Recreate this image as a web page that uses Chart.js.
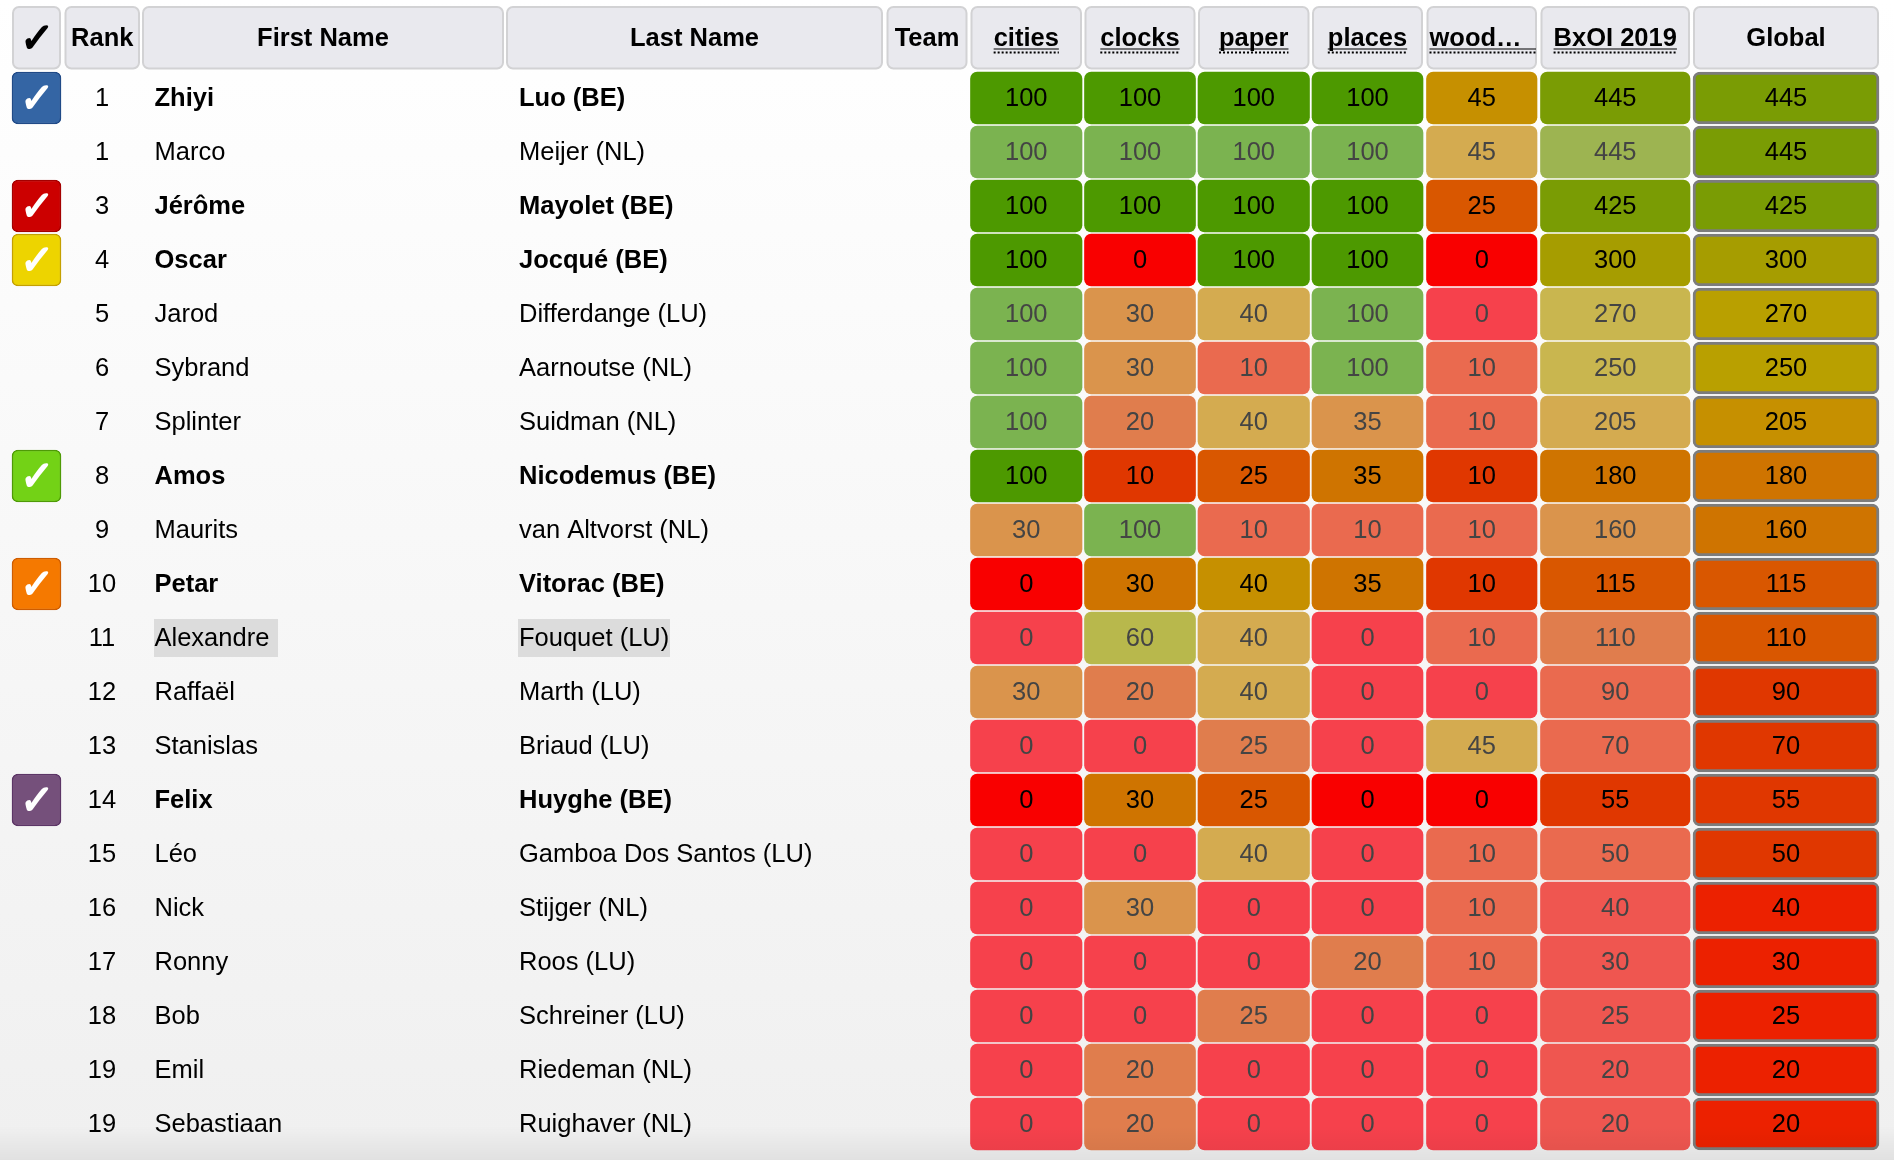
<!DOCTYPE html>
<html>
<head>
<meta charset="utf-8">
<title>BxOI 2019 ranking</title>
<script src="https://cdn.jsdelivr.net/npm/chart.js@4"></script>
<style>
  html, body { margin: 0; padding: 0; background: #fff; }
  body { width: 1894px; height: 1160px; overflow: hidden;
         background: linear-gradient(#ffffff 0, #f0f0f0 1140px, #f0f0f0 1160px); }
  canvas { display: block; }
</style>
</head>
<body>
<canvas id="rankChart" width="1894" height="1160"></canvas>
<script>
const ranks = [1, 1, 3, 4, 5, 6, 7, 8, 9, 10, 11, 12, 13, 14, 15, 16, 17, 18, 19, 19];
const firstNames = ["Zhiyi", "Marco", "Jérôme", "Oscar", "Jarod", "Sybrand", "Splinter", "Amos", "Maurits", "Petar",
  "Alexandre", "Raffaël", "Stanislas", "Felix", "Léo", "Nick", "Ronny", "Bob", "Emil", "Sebastiaan"];
const lastNames = ["Luo (BE)", "Meijer (NL)", "Mayolet (BE)", "Jocqué (BE)", "Differdange (LU)", "Aarnoutse (NL)",
  "Suidman (NL)", "Nicodemus (BE)", "van Altvorst (NL)", "Vitorac (BE)", "Fouquet (LU)", "Marth (LU)", "Briaud (LU)",
  "Huyghe (BE)", "Gamboa Dos Santos (LU)", "Stijger (NL)", "Roos (LU)", "Schreiner (LU)", "Riedeman (NL)", "Ruighaver (NL)"];
const cities = [100, 100, 100, 100, 100, 100, 100, 100, 30, 0, 0, 30, 0, 0, 0, 0, 0, 0, 0, 0];
const clocks = [100, 100, 100, 0, 30, 30, 20, 10, 100, 30, 60, 20, 0, 30, 0, 30, 0, 0, 20, 20];
const paper = [100, 100, 100, 100, 40, 10, 40, 25, 10, 40, 40, 40, 25, 25, 40, 0, 0, 25, 0, 0];
const places = [100, 100, 100, 100, 100, 100, 35, 35, 10, 35, 0, 0, 0, 0, 0, 0, 20, 0, 0, 0];
const wood = [45, 45, 25, 0, 0, 10, 10, 10, 10, 10, 10, 0, 45, 0, 10, 10, 10, 0, 0, 0];
const bxoi = [445, 445, 425, 300, 270, 250, 205, 180, 160, 115, 110, 90, 70, 55, 50, 40, 30, 25, 20, 20];
const global = [445, 445, 425, 300, 270, 250, 205, 180, 160, 115, 110, 90, 70, 55, 50, 40, 30, 25, 20, 20];
// teams: which row is ticked, and in which colour
const ticked = ["blue", null, "red", "yellow", null, null, null, "green", null, "orange",
  null, null, null, "purple", null, null, null, null, null, null];

const headers = ["✓", "Rank", "First Name", "Last Name", "Team", "cities", "clocks", "paper", "places", "wood…", "BxOI 2019", "Global"];

// layout, in x scale units (1 unit = 1px)
const columns = [[12, 61], [64.5, 140], [142, 504], [506, 883], [886.5, 967.5], [970.5, 1082], [1084.5, 1195.5],
  [1198, 1309.5], [1312, 1423], [1426.5, 1537], [1540.5, 1690], [1693, 1879]];
const tickColours = {
  blue: ["#3465a4", "#204a87"], red: ["#cc0000", "#a40000"], yellow: ["#edd400", "#c4a000"],
  green: ["#73d216", "#4e9a06"], orange: ["#f57900", "#ce5c00"], purple: ["#75507b", "#5c3566"]
};
// one colour per tenth of the max score, 0 has its own
const scoreColours = ["#ec2100", "#e03700", "#d95700", "#cf7400", "#c69000", "#b9a000", "#a69d00", "#929b00", "#7a9c04", "#4d9900"];
const fadedColours = ["#ef5650", "#ea6a4f", "#e07d4d", "#da944c", "#d4ab50", "#c9b64f", "#b8b84c", "#abb54e", "#9db451", "#7bb350"];
const FONT = '"Liberation Sans", Arial, sans-serif';

function scoreColour(score, max, faded) {
  if (score === 0) return faded ? "#f6414c" : "#f90000";
  const step = Math.min(9, Math.floor(score / max * 10));
  return faded ? fadedColours[step] : scoreColours[step];
}

function taskDataset(label, scores, col, max) {
  return {
    label: label,
    scores: scores,
    max: max,
    col: col,
    data: scores.map(() => columns[col]),
    backgroundColor: ctx => scoreColour(scores[ctx.dataIndex], max, !ticked[ctx.dataIndex] && col !== 11),
    borderColor: "#7c7c7c",
    borderWidth: col === 11 ? 3 : 0,
    borderRadius: 7,
    borderSkipped: false,
    barThickness: 52,
    grouped: false
  };
}

const checkDataset = {
  label: "ticked",
  data: ticked.map(t => t ? columns[0] : null),
  backgroundColor: ctx => ticked[ctx.dataIndex] ? tickColours[ticked[ctx.dataIndex]][0] : "transparent",
  borderColor: ctx => ticked[ctx.dataIndex] ? tickColours[ticked[ctx.dataIndex]][1] : "transparent",
  borderWidth: 1.5,
  borderRadius: 6,
  borderSkipped: false,
  barThickness: 52,
  grouped: false
};

function box(c, x, y, w, h, r) {
  c.beginPath();
  c.roundRect(x, y, w, h, r);
}

// the tick glyph is too small and too upright in DejaVu, so stretch it a bit
function drawTick(c, x, y, colour) {
  c.save();
  c.translate(x, y);
  c.transform(1.12, 0, -0.1, 1.2, 0, 0);
  c.textAlign = "center";
  c.font = '34px "DejaVu Sans"';
  c.fillStyle = colour;
  c.strokeStyle = colour;
  c.lineWidth = 1.6;
  c.lineJoin = "round";
  c.fillText("✓", 0, 0);
  c.strokeText("✓", 0, 0);
  c.restore();
}

const tablePlugin = {
  id: "tableText",
  afterDatasetsDraw(chart) {
    const c = chart.ctx;
    const xs = chart.scales.x;
    const ys = chart.scales.y;
    c.save();
    c.textBaseline = "middle";

    // header row
    headers.forEach((h, i) => {
      const l = xs.getPixelForValue(columns[i][0]);
      const r = xs.getPixelForValue(columns[i][1]);
      box(c, l + 1, 7, r - l - 2, 61.5, 6);
      c.fillStyle = "#e9e9ee";
      c.fill();
      c.lineWidth = 2;
      c.strokeStyle = "#d2d2d4";
      c.stroke();
      if (i === 0) {
        drawTick(c, (l + r) / 2, 41, "#000");
        return;
      }
      c.fillStyle = "#000";
      c.textAlign = "center";
      c.font = "bold 25.5px " + FONT;
      if (i === 9) {
        c.textAlign = "left";
        c.fillText(h, l + 3, 39);
      } else {
        c.fillText(h, (l + r) / 2, 39);
      }
      // score columns have a solid + dotted underline
      if (i >= 5 && i <= 10) {
        const w = c.measureText(h).width;
        const x0 = i === 9 ? l + 3 : (l + r - w) / 2;
        const x1 = i === 9 ? r - 1 : (l + r + w) / 2;
        c.strokeStyle = "#000";
        c.beginPath();
        c.lineWidth = 1.2;
        c.moveTo(x0, 49);
        c.lineTo(x1, 49);
        c.stroke();
        c.setLineDash([2, 2]);
        c.lineWidth = 2;
        c.beginPath();
        c.moveTo(x0, 52.5);
        c.lineTo(x1, 52.5);
        c.stroke();
        c.setLineDash([]);
      }
    });

    // name columns
    ranks.forEach((rank, i) => {
      const y = ys.getPixelForValue(i);
      const bold = !!ticked[i];
      if (firstNames[i] === "Alexandre") {
        c.fillStyle = "#dcdcdc";
        c.fillRect(xs.getPixelForValue(154), y - 19, 124, 38);
        c.fillRect(xs.getPixelForValue(518), y - 19, 152, 38);
      }
      c.fillStyle = "#000";
      c.textAlign = "center";
      c.font = "25.5px " + FONT;
      c.fillText(String(rank), xs.getPixelForValue(102), y + 1);
      c.textAlign = "left";
      c.font = (bold ? "bold " : "") + "25.5px " + FONT;
      c.fillText(firstNames[i], xs.getPixelForValue(154.5), y + 1);
      c.fillText(lastNames[i], xs.getPixelForValue(519), y + 1);
      if (bold) drawTick(c, xs.getPixelForValue(36.5), y + 3, "#fff");
    });

    // scores inside the bars
    chart.data.datasets.forEach((ds, d) => {
      if (!ds.scores) return;
      chart.getDatasetMeta(d).data.forEach((bar, i) => {
        const p = bar.getCenterPoint();
        const faded = !ticked[i] && ds.col !== 11;
        c.fillStyle = faded ? "#444" : "#000";
        c.textAlign = "center";
        c.font = "25.5px " + FONT;
        c.fillText(String(ds.scores[i]), p.x, p.y + 1);
      });
    });

    // the page darkens a little at its bottom edge
    const fade = c.createLinearGradient(0, 1126, 0, 1160);
    fade.addColorStop(0, "rgba(0,0,0,0)");
    fade.addColorStop(1, "rgba(0,0,0,0.06)");
    c.fillStyle = fade;
    c.fillRect(0, 1126, 1894, 34);
    c.restore();
  }
};

new Chart(document.getElementById("rankChart"), {
  type: "bar",
  data: {
    labels: lastNames,
    datasets: [
      checkDataset,
      taskDataset("cities", cities, 5, 100),
      taskDataset("clocks", clocks, 6, 100),
      taskDataset("paper", paper, 7, 100),
      taskDataset("places", places, 8, 100),
      taskDataset("wood", wood, 9, 100),
      taskDataset("BxOI 2019", bxoi, 10, 500),
      taskDataset("Global", global, 11, 500)
    ]
  },
  plugins: [tablePlugin],
  options: {
    indexAxis: "y",
    responsive: false,
    animation: false,
    layout: { padding: { top: 71, bottom: 9 } },
    plugins: { legend: { display: false }, tooltip: { enabled: false } },
    scales: {
      x: { type: "linear", min: 0, max: 1894, display: false },
      y: { type: "category", display: false }
    }
  }
});
</script>
</body>
</html>
